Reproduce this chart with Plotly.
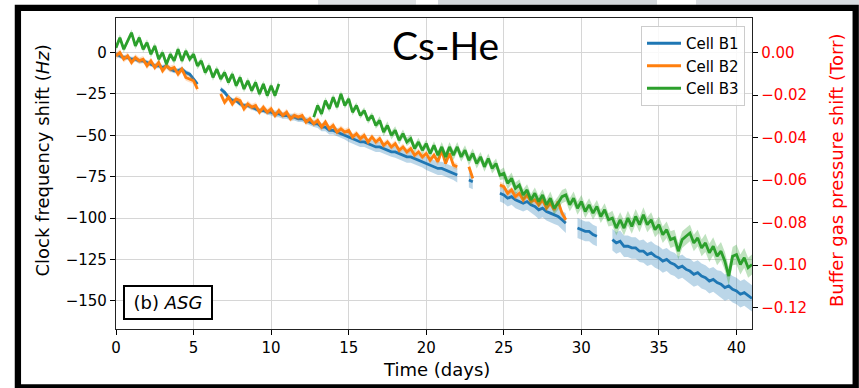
import plotly.graph_objects as go

# ---------------- data ----------------
K_HZ_PER_TORR = 1284.0          # Cs-He pressure shift coefficient used for the right axis
STEP = 0.25                     # days between samples
N = 165
days = [i * STEP for i in range(N)]

N_ = None
# Cell B1 (Hz), one row per day (samples at +0, +0.25, +0.5, +0.75 d)
b1_rows = [
    [-1, -2, -3, -3], [-4, -4, -5, -5], [-6, -7, -8, -8], [-9, -8, -10, -11],
    [-11, -10, -12, -13], [-16, -19, N_, N_], [N_, N_, N_, -22], [-24, -27, -29, -29],
    [-31, -32, -32, -33], [-34, -35, -35, -36], [-36, -37, -37, -38], [-38, -39, -39, -40],
    [-40, -41, -42, -43], [-43, -45, -45, -47], [-47, -48, -49, -50], [-51, -52, -53, -54],
    [-54, -55, -56, -57], [-57, -58, -59, -60], [-60, -61, -62, -63], [-63, -64, -65, -66],
    [-67, -68, -69, -70], [-70, -71, -72, -73], [-74, N_, N_, -77], [-78, N_, N_, N_],
    [N_, N_, N_, -85], [-86, -88, -87, -89], [-90, -91, -90, -92], [-93, -95, -94, -96],
    [-97, -98, -99, -101], [-103, N_, N_, -106], [-107, -108, -108, -110], [-111, N_, N_, N_],
    [-113, -115, -114, -117], [-117, -118, -118, -120], [-120, -122, -121, -123], [-124, -126, -125, -127],
    [-128, -130, -129, -131], [-132, -134, -133, -135], [-136, -138, -137, -139], [-140, -142, -141, -143],
    [-144, -146, -145, -147], [-148.5],
]
# Cell B2 (Hz)
b2_rows = [
    [-2, 0, -4, -2], [-6, -3, -5, -4], [-8, -5, -9, -6], [-11, -8, -10, -9],
    [-13, -10, -15, -16], [-17, -22, N_, N_], [N_, N_, N_, -25], [-30, -27, -31, -28],
    [-29, -34, -31, -33], [-32, -36, -33, -36], [-34, -38, -35, -38], [-36, -40, -38, -39],
    [-38, -42, -40, -43], [-41, -45, -42, -46], [-44, -48, -46, -48], [-47, -51, -49, -52],
    [-50, -54, -51, -54], [-52, -56, -54, -57], [-55, -59, -57, -60], [-58, -62, -60, -63],
    [-61, -65, -62, -66], [-59, -67, -61, -68], [-69, N_, N_, -69], [-76, N_, N_, N_],
    [N_, N_, N_, -80], [-81, -85, -83, -87], [-85, -89, -86, -90], [-89, -92, -89, -94],
    [-91, -95, -90, -97], [-101],
]
# Cell B3 (Hz)
b3_rows = [
    [3, 9, 2, 7], [12, 4, 9, 2], [6, -1, 4, -4], [0, -7, -1, -5],
    [2, -5, 1, -4], [-1, -8, -5, -12], [-8, -15, -10, -16], [-12, -18, -13, -20],
    [-15, -22, -17, -23], [-18, -25, -19, -26], [-20, -26, -19, N_], [N_, N_, N_, N_],
    [N_, N_, N_, -39], [-32, -37, -29, -34], [-27, -33, -25, -32], [-28, -36, -32, -38],
    [-35, -41, -38, -44], [-41, -48, -44, -50], [-47, -53, -49, -54], [-52, -58, -54, -59],
    [-55, -61, -56, -62], [-57, -63, -57, -62], [-57, -63, -59, -65], [-61, -67, -63, -69],
    [-64, -70, -67, -74], [-73, -79, -76, -82], [-80, -86, -83, -89], [-85, -90, -86, -92],
    [-88, -94, -91, -87], [-86, -92, -88, -94], [-90, -96, -92, -97], [-93, -99, -95, -101],
    [-100, -106, -101, -106], [-100, -105, -99, -104], [-98, -104, -101, -107], [-104, -110, -107, -113],
    [-112, -120, -113, -111], [-109, -115, -112, -118], [-115, -121, -117, -123], [-120, -126, -135, -123],
    [-122, -128, -124, -130], [-128],
]
# uncertainty half-widths (Hz), one value per day 0..40
b1_err = [1.5, 1.5, 1.5, 1.5, 1.5, 1.5, 1.5, 1.5, 1.5, 1.5,
          2, 2, 2, 2.5, 2.5, 3, 3, 3, 3.5, 3.5,
          4, 4, 4.5, 4.5, 5, 5, 5, 5.5, 5.5, 6,
          6, 6, 6.5, 6.5, 7, 7, 7, 7.5, 7.5, 8, 8]
b2_err = [2] * 41
b3_err = [2, 2, 2, 2, 2, 2, 2, 2, 2, 2,
          2, 2, 2, 2, 2, 2, 2, 2.5, 2.5, 2.5,
          2.5, 3, 3, 3, 3, 3.5, 3.5, 3.5, 4, 4,
          4, 4, 4.5, 4.5, 4.5, 5, 5, 5, 5.5, 5.5, 6]

series_names = ["Cell B1", "Cell B2", "Cell B3"]
colors = ["#1f77b4", "#ff7f0e", "#2ca02c"]
band_colors = ["rgba(31,119,180,0.3)", "rgba(255,127,14,0.25)", "rgba(44,160,44,0.3)"]

x_ticks = [0, 5, 10, 15, 20, 25, 30, 35, 40]
y_ticks = [0, -25, -50, -75, -100, -125, -150]
y2_ticks = [0.0, -0.02, -0.04, -0.06, -0.08, -0.10, -0.12]
x_range = [0, 41]
y_range = [-167, 20.9]


def flatten(rows):
    out = [v for r in rows for v in r]
    out = out[:N]
    out += [None] * (N - len(out))
    return out


series = [flatten(b1_rows), flatten(b2_rows), flatten(b3_rows)]
errs = [b1_err, b2_err, b3_err]


def segments(xs, ys):
    segs, cx, cy = [], [], []
    for x, y in zip(xs, ys):
        if y is None:
            if cx:
                segs.append((cx, cy))
            cx, cy = [], []
        else:
            cx.append(x)
            cy.append(y)
    if cx:
        segs.append((cx, cy))
    return segs


# ---------------- layout geometry ----------------
W, H = 859, 388
L, R, T, B = 116, 107, 18, 59
PW, PH = W - L - R, H - T - B


def px(x):
    return (x - L) / PW


def py(y):
    return 1 - (y - T) / PH


FONT = "DejaVu Sans"

fig = go.Figure()

for k in range(3):
    ys = series[k]
    err = errs[k]
    for sx, sy in segments(days, ys):
        lo = [v - err[min(int(x), 40)] for x, v in zip(sx, sy)]
        hi = [v + err[min(int(x), 40)] for x, v in zip(sx, sy)]
        fig.add_trace(go.Scatter(
            x=sx + sx[::-1], y=hi + lo[::-1], fill="toself", fillcolor=band_colors[k],
            line=dict(width=0), mode="lines", showlegend=False, hoverinfo="skip"))
    fig.add_trace(go.Scatter(
        x=days, y=ys, mode="lines", name=series_names[k],
        line=dict(color=colors[k], width=2.8), connectgaps=False))

# invisible trace on the Torr axis so that it is drawn
fig.add_trace(go.Scatter(
    x=days, y=[None if v is None else v / K_HZ_PER_TORR for v in series[0]],
    yaxis="y2", mode="lines", line=dict(width=0), opacity=0,
    showlegend=False, hoverinfo="skip"))

axis_common = dict(
    ticks="outside", ticklen=5, tickwidth=1, tickcolor="black",
    showline=True, linecolor="#222222", linewidth=1.3,
    zeroline=False, tickfont=dict(family=FONT, size=15, color="black"),
)

fig.update_layout(
    width=W, height=H,
    margin=dict(l=L, r=R, t=T, b=B, autoexpand=False),
    paper_bgcolor="white", plot_bgcolor="white",
    font=dict(family=FONT, size=15, color="black"),
    hovermode=False,
    xaxis=dict(range=x_range, tickvals=x_ticks, mirror=True, showgrid=True,
               gridcolor="#d6d6d6", gridwidth=1, **axis_common),
    yaxis=dict(range=y_range, tickvals=y_ticks, mirror=True, showgrid=True,
               gridcolor="#d6d6d6", gridwidth=1, **axis_common),
    yaxis2=dict(overlaying="y", side="right",
                range=[y_range[0] / K_HZ_PER_TORR, y_range[1] / K_HZ_PER_TORR],
                tickvals=y2_ticks, tickformat=".2f", showgrid=False,
                ticks="outside", ticklen=5, tickwidth=1, tickcolor="black",
                showline=True, linecolor="#222222", linewidth=1.3, zeroline=False,
                tickfont=dict(family=FONT, size=15, color="#ff0000")),
    legend=dict(x=px(745), xanchor="right", y=py(26), yanchor="top",
                bgcolor="rgba(255,255,255,0.85)", bordercolor="#cccccc", borderwidth=1,
                font=dict(family=FONT, size=15, color="black"), itemwidth=34,
                tracegroupgap=0),
    showlegend=True,
)

annotations = [
    dict(text="Cs-He", x=px(445), y=py(45), xref="paper", yref="paper",
         showarrow=False, xanchor="center", yanchor="middle",
         font=dict(family="Lato", size=39, color="black")),
    dict(text="(b) <i>ASG</i>", x=px(168), y=py(302.5), xref="paper", yref="paper",
         showarrow=False, xanchor="center", yanchor="middle",
         font=dict(family=FONT, size=18, color="black"),
         bordercolor="black", borderwidth=2, borderpad=1, bgcolor="white",
         width=84, height=29),
    dict(text="Clock frequency shift (<i>Hz</i>)", x=px(42), y=py(160.5),
         xref="paper", yref="paper", showarrow=False, textangle=-90,
         xanchor="center", yanchor="middle",
         font=dict(family=FONT, size=18, color="black")),
    dict(text="Buffer gas pressure shift (Torr)", x=px(836), y=py(171),
         xref="paper", yref="paper", showarrow=False, textangle=-90,
         xanchor="center", yanchor="middle",
         font=dict(family=FONT, size=18, color="#ff0000")),
    dict(text="Time (days)", x=px(436), y=py(369), xref="paper", yref="paper",
         showarrow=False, xanchor="center", yanchor="middle",
         font=dict(family=FONT, size=18, color="black")),
]
fig.update_layout(annotations=annotations)

shapes = [
    # faint screenshot strip above the frame
    dict(type="rect", xref="paper", yref="paper", x0=px(318), x1=px(416), y0=py(0), y1=py(4.7),
         fillcolor="#dfe2e5", line=dict(width=0), layer="above"),
    dict(type="rect", xref="paper", yref="paper", x0=px(438), x1=px(657), y0=py(0), y1=py(4.7),
         fillcolor="#d4d8dc", line=dict(width=0), layer="above"),
    dict(type="rect", xref="paper", yref="paper", x0=px(696), x1=px(859), y0=py(0), y1=py(4.7),
         fillcolor="#d9dde1", line=dict(width=0), layer="above"),
    # black frame of the slide
    dict(type="rect", xref="paper", yref="paper", x0=px(17.9), x1=px(855.7),
         y0=py(7.9), y1=py(387.5), line=dict(color="black", width=6.3),
         fillcolor="rgba(0,0,0,0)", layer="above"),
]
fig.update_layout(shapes=shapes)

fig.write_html("out.html")
